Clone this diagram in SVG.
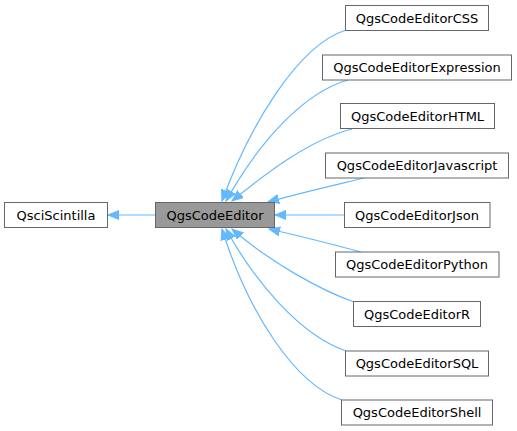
<svg xmlns="http://www.w3.org/2000/svg" width="517" height="431" viewBox="0 0 517 431">
<style>
.box{fill:#ffffff;stroke:#666666;stroke-width:1}
.cur{fill:#999999;stroke:#666666;stroke-width:1}
.lbl{font-family:"DejaVu Sans",sans-serif;font-size:13px;fill:#000000;text-anchor:middle}
.edge{fill:none;stroke:#63b8ff;stroke-width:1.2}
</style>
<defs>
<marker id="ah" markerUnits="userSpaceOnUse" markerWidth="13" markerHeight="11" refX="11" refY="5" orient="auto">
<path d="M0,0.5 L11,5 L0,9.5 z" fill="#63b8ff" stroke="#63b8ff" stroke-width="1"/>
</marker>
</defs>
<rect width="517" height="431" fill="#ffffff"/>
<g id="edges">
<path class="edge" d="M155,215 L108,215" marker-end="url(#ah)"/>
<path class="edge" d="M346,30 C296,46 248,130 222,201" marker-end="url(#ah)"/>
<path class="edge" d="M348,80 C305,92 260,140 226,201" marker-end="url(#ah)"/>
<path class="edge" d="M352,129 C310,140 270,170 232,201" marker-end="url(#ah)"/>
<path class="edge" d="M364,178 C335,185 300,193 268,202" marker-end="url(#ah)"/>
<path class="edge" d="M344,215 L275,215" marker-end="url(#ah)"/>
<path class="edge" d="M361,252 C335,245 300,236 269,229" marker-end="url(#ah)"/>
<path class="edge" d="M354,302 C320,290 270,262 232,229" marker-end="url(#ah)"/>
<path class="edge" d="M346,351 C300,335 255,282 226,229" marker-end="url(#ah)"/>
<path class="edge" d="M342,400 C295,385 248,312 222,229" marker-end="url(#ah)"/>
</g>
<g id="QsciScintilla"><rect class="box" x="4.5" y="202.5" width="103" height="25"/><text class="lbl" x="56" y="219.5">QsciScintilla</text></g>
<g id="QgsCodeEditor"><rect class="cur" x="155.5" y="202.5" width="119" height="25"/><text class="lbl" x="215" y="219.5">QgsCodeEditor</text></g>
<g id="QgsCodeEditorCSS"><rect class="box" x="345.5" y="5.5" width="143" height="25"/><text class="lbl" x="417" y="22.5">QgsCodeEditorCSS</text></g>
<g id="QgsCodeEditorExpression"><rect class="box" x="322.5" y="55" width="189" height="25"/><text class="lbl" x="417" y="72">QgsCodeEditorExpression</text></g>
<g id="QgsCodeEditorHTML"><rect class="box" x="340.5" y="103.5" width="154" height="25"/><text class="lbl" x="417.5" y="120.5">QgsCodeEditorHTML</text></g>
<g id="QgsCodeEditorJavascript"><rect class="box" x="325.5" y="153" width="183" height="25"/><text class="lbl" x="417" y="170">QgsCodeEditorJavascript</text></g>
<g id="QgsCodeEditorJson"><rect class="box" x="344.5" y="202.5" width="145.5" height="25"/><text class="lbl" x="417" y="219.5">QgsCodeEditorJson</text></g>
<g id="QgsCodeEditorPython"><rect class="box" x="335.5" y="252" width="163.5" height="25"/><text class="lbl" x="417" y="269">QgsCodeEditorPython</text></g>
<g id="QgsCodeEditorR"><rect class="box" x="353.5" y="301.5" width="127" height="25"/><text class="lbl" x="417" y="318.5">QgsCodeEditorR</text></g>
<g id="QgsCodeEditorSQL"><rect class="box" x="345.5" y="351" width="143" height="25"/><text class="lbl" x="417" y="368">QgsCodeEditorSQL</text></g>
<g id="QgsCodeEditorShell"><rect class="box" x="341.5" y="400" width="151" height="25"/><text class="lbl" x="417" y="417">QgsCodeEditorShell</text></g>
</svg>
